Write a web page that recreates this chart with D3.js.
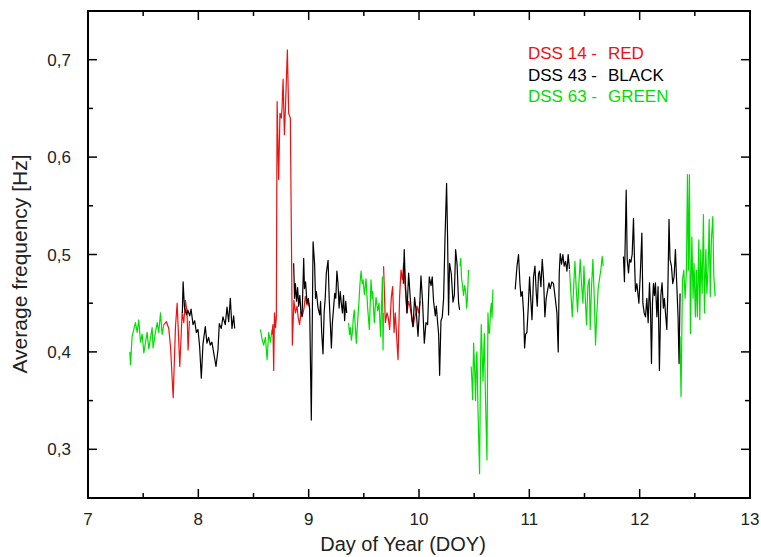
<!DOCTYPE html>
<html lang="en">
<head>
<meta charset="UTF-8">
<title>Average frequency vs DOY</title>
<script src="https://cdn.jsdelivr.net/npm/d3@7/dist/d3.min.js"></script>
<style>
    body { margin: 0; background: #fff; }
    svg { display: block; font-family: "Liberation Sans", Arial, sans-serif; }
    .frame { fill: none; stroke: #000; stroke-width: 2px; }
    .tick line { stroke: #000; stroke-width: 1.5px; }
    .tick-label { fill: #222; font-size: 17px; }
    .trace { fill: none; stroke-width: 1.2px; stroke-linejoin: round; }
</style>
</head>
<body>
<script>
    // canvas
    const width = 761;
    const height = 557;
    const margin = { top: 11, right: 11, bottom: 59, left: 88 };

    // axis ticks
    const xMajor = [7, 8, 9, 10, 11, 12, 13];
    const xMinor = [7.5, 8.5, 9.5, 10.5, 11.5, 12.5];
    const yMajor = [0.3, 0.4, 0.5, 0.6, 0.7];
    const yMinor = [0.25, 0.35, 0.45, 0.55, 0.65, 0.75];

    // DSS 14 (red) - [day, Hz]
    const red1 = [[7.687,0.428],[7.711,0.431],[7.732,0.424],[7.748,0.405],[7.772,0.353],[7.793,0.426],[7.808,0.450],[7.832,0.385],[7.853,0.440],[7.868,0.430],[7.883,0.453],[7.898,0.440],[7.907,0.402],[7.919,0.432]];
    const red2 = [[8.668,0.418],[8.676,0.428],[8.683,0.381],[8.690,0.440],[8.700,0.425],[8.707,0.435],[8.714,0.657],[8.728,0.577],[8.740,0.645],[8.752,0.640],[8.759,0.651],[8.768,0.680],[8.780,0.623],[8.790,0.652],[8.807,0.710],[8.819,0.645],[8.834,0.640],[8.852,0.407],[8.866,0.453],[8.880,0.440],[8.895,0.447],[8.905,0.435],[8.918,0.428],[8.930,0.440],[8.943,0.437],[8.958,0.445],[8.970,0.457],[8.985,0.448],[8.995,0.452],[9.009,0.445]];
    const red3 = [[9.679,0.488],[9.695,0.430],[9.710,0.440],[9.722,0.435],[9.734,0.423],[9.749,0.456],[9.761,0.467],[9.774,0.420],[9.785,0.440],[9.801,0.409],[9.810,0.392],[9.824,0.456],[9.837,0.484],[9.849,0.474],[9.861,0.491],[9.876,0.465],[9.891,0.440],[9.906,0.452],[9.921,0.445],[9.935,0.435],[9.946,0.426],[9.960,0.435],[9.972,0.440],[9.982,0.447],[9.995,0.440],[10.012,0.452]];

    // DSS 43 (black)
    const black1 = [[7.855,0.440],[7.862,0.472],[7.874,0.446],[7.892,0.438],[7.904,0.443],[7.922,0.437],[7.934,0.444],[7.952,0.428],[7.967,0.432],[7.982,0.420],[7.997,0.423],[8.012,0.405],[8.027,0.373],[8.042,0.408],[8.063,0.426],[8.078,0.409],[8.093,0.415],[8.108,0.407],[8.123,0.410],[8.138,0.400],[8.160,0.385],[8.178,0.402],[8.190,0.429],[8.208,0.424],[8.223,0.436],[8.244,0.428],[8.260,0.446],[8.275,0.431],[8.290,0.455],[8.305,0.424],[8.320,0.437],[8.330,0.424]];
    const black2 = [[8.864,0.491],[8.872,0.455],[8.880,0.470],[8.890,0.452],[8.900,0.466],[8.909,0.447],[8.920,0.458],[8.930,0.440],[8.940,0.436],[8.955,0.496],[8.962,0.465],[8.972,0.472],[8.985,0.450],[8.997,0.455],[9.009,0.444],[9.024,0.330],[9.040,0.513],[9.054,0.490],[9.062,0.455],[9.070,0.462],[9.085,0.445],[9.100,0.438],[9.108,0.452],[9.118,0.420],[9.130,0.398],[9.140,0.440],[9.150,0.455],[9.160,0.481],[9.176,0.494],[9.186,0.455],[9.196,0.430],[9.206,0.404],[9.215,0.430],[9.228,0.448],[9.236,0.460],[9.246,0.455],[9.256,0.483],[9.266,0.470],[9.276,0.445],[9.286,0.462],[9.296,0.450],[9.306,0.440],[9.316,0.458],[9.326,0.432],[9.336,0.452],[9.345,0.440]];
    const black3 = [[9.858,0.470],[9.866,0.505],[9.876,0.472],[9.891,0.440],[9.906,0.481],[9.921,0.455],[9.937,0.432],[9.946,0.426],[9.960,0.456],[9.976,0.440],[9.991,0.416],[10.005,0.445],[10.018,0.478],[10.033,0.450],[10.048,0.409],[10.063,0.430],[10.078,0.428],[10.093,0.477],[10.109,0.468],[10.120,0.477],[10.132,0.452],[10.148,0.437],[10.157,0.447],[10.169,0.430],[10.178,0.418],[10.187,0.376],[10.199,0.432],[10.211,0.436],[10.223,0.455],[10.236,0.518],[10.250,0.573],[10.259,0.518],[10.268,0.438],[10.277,0.491],[10.293,0.480],[10.308,0.451],[10.320,0.458],[10.332,0.505],[10.345,0.490],[10.359,0.450],[10.368,0.443]];
    const black4 = [[10.872,0.464],[10.888,0.488],[10.902,0.500],[10.915,0.470],[10.924,0.457],[10.936,0.462],[10.948,0.440],[10.957,0.404],[10.966,0.418],[10.978,0.420],[10.990,0.445],[11.002,0.477],[11.014,0.452],[11.024,0.433],[11.038,0.477],[11.051,0.488],[11.063,0.460],[11.072,0.447],[11.083,0.480],[11.092,0.483],[11.105,0.467],[11.117,0.495],[11.129,0.475],[11.141,0.436],[11.153,0.455],[11.165,0.463],[11.178,0.471],[11.189,0.465],[11.205,0.472],[11.219,0.470],[11.235,0.455],[11.250,0.440],[11.262,0.400],[11.271,0.481],[11.280,0.501],[11.292,0.490],[11.304,0.500],[11.316,0.488],[11.328,0.493],[11.341,0.483],[11.352,0.500],[11.364,0.485]];
    const black5 = [[11.853,0.498],[11.862,0.472],[11.878,0.566],[11.887,0.495],[11.899,0.481],[11.908,0.495],[11.920,0.492],[11.932,0.500],[11.944,0.537],[11.953,0.495],[11.962,0.462],[11.975,0.470],[11.984,0.460],[11.993,0.450],[12.005,0.478],[12.020,0.522],[12.029,0.450],[12.041,0.440],[12.053,0.436],[12.065,0.455],[12.077,0.430],[12.089,0.471],[12.098,0.445],[12.107,0.388],[12.116,0.450],[12.125,0.470],[12.134,0.458],[12.143,0.471],[12.156,0.436],[12.167,0.467],[12.179,0.381],[12.192,0.458],[12.203,0.471],[12.215,0.445],[12.224,0.455],[12.234,0.440],[12.246,0.423],[12.255,0.460],[12.266,0.536],[12.275,0.495],[12.288,0.488],[12.300,0.470],[12.312,0.477],[12.324,0.505],[12.337,0.467],[12.348,0.436],[12.357,0.388],[12.366,0.460]];

    // DSS 63 (green)
    const green1 = [[7.379,0.400],[7.385,0.387],[7.400,0.416],[7.430,0.430],[7.446,0.420],[7.460,0.433],[7.476,0.410],[7.491,0.418],[7.506,0.399],[7.536,0.420],[7.551,0.403],[7.581,0.425],[7.590,0.404],[7.611,0.420],[7.627,0.430],[7.641,0.420],[7.657,0.440],[7.672,0.418],[7.687,0.428]];
    const green2 = [[8.563,0.423],[8.578,0.413],[8.592,0.407],[8.608,0.415],[8.623,0.392],[8.638,0.420],[8.653,0.410],[8.668,0.423]];
    const green3 = [[9.362,0.430],[9.370,0.418],[9.378,0.425],[9.387,0.412],[9.396,0.420],[9.405,0.435],[9.414,0.443],[9.423,0.425],[9.432,0.409],[9.442,0.428],[9.455,0.450],[9.465,0.470],[9.475,0.483],[9.485,0.470],[9.493,0.474],[9.505,0.459],[9.520,0.475],[9.534,0.446],[9.550,0.423],[9.558,0.450],[9.565,0.474],[9.575,0.455],[9.580,0.462],[9.595,0.430],[9.603,0.445],[9.611,0.456],[9.625,0.442],[9.638,0.450],[9.652,0.416],[9.668,0.477],[9.674,0.402],[9.679,0.440]];
    const green4 = [[10.372,0.488],[10.378,0.496],[10.386,0.475],[10.393,0.470],[10.404,0.458],[10.414,0.468],[10.423,0.462],[10.432,0.445],[10.438,0.453],[10.449,0.484]];
    const green5 = [[10.473,0.385],[10.480,0.370],[10.486,0.351],[10.495,0.409],[10.505,0.380],[10.513,0.350],[10.520,0.395],[10.525,0.400],[10.534,0.344],[10.549,0.275],[10.557,0.380],[10.564,0.428],[10.572,0.400],[10.580,0.370],[10.592,0.419],[10.603,0.350],[10.616,0.289],[10.625,0.440],[10.632,0.420],[10.639,0.419],[10.647,0.440],[10.655,0.450],[10.662,0.435],[10.670,0.464]];
    const green6 = [[11.364,0.484],[11.377,0.460],[11.389,0.436],[11.401,0.465],[11.413,0.493],[11.425,0.465],[11.437,0.441],[11.449,0.470],[11.461,0.495],[11.473,0.470],[11.486,0.450],[11.495,0.488],[11.506,0.458],[11.518,0.428],[11.531,0.468],[11.543,0.475],[11.552,0.423],[11.563,0.465],[11.576,0.495],[11.588,0.458],[11.600,0.407],[11.612,0.440],[11.624,0.465],[11.636,0.475],[11.649,0.485],[11.660,0.498],[11.670,0.488]];
    const green7 = [[12.366,0.416],[12.375,0.354],[12.388,0.474],[12.400,0.484],[12.412,0.455],[12.424,0.484],[12.433,0.582],[12.442,0.484],[12.451,0.582],[12.460,0.419],[12.473,0.518],[12.484,0.455],[12.493,0.491],[12.505,0.436],[12.514,0.484],[12.523,0.436],[12.536,0.515],[12.545,0.433],[12.554,0.505],[12.566,0.460],[12.578,0.541],[12.587,0.440],[12.600,0.505],[12.609,0.460],[12.621,0.488],[12.630,0.536],[12.640,0.457],[12.650,0.515],[12.663,0.539],[12.672,0.478],[12.684,0.457]];

    const stations = [
        { name: 'DSS 63 -', color: 'GREEN', stroke: '#00e000', segments: [green1, green2, green3, green4, green5, green6, green7] },
        { name: 'DSS 14 -', color: 'RED', stroke: '#f01010', segments: [red1, red2, red3] },
        { name: 'DSS 43 -', color: 'BLACK', stroke: '#000000', segments: [black1, black2, black3, black4, black5] }
    ];
    const legendOrder = ['DSS 14 -', 'DSS 43 -', 'DSS 63 -'];

    let svg = d3.select('body')
        .append('svg')
        .attr('width', width)
        .attr('height', height);

    const x = d3.scaleLinear().domain([7, 13]).range([margin.left, width - margin.right]);
    const y = d3.scaleLinear().domain([0.25, 0.75]).range([height - margin.bottom, margin.top]);

    const fmt = d => d3.format('.1f')(d).replace('.', ',');

    // traces
    const line = d3.line().x(d => x(d[0])).y(d => y(d[1]));
    stations.forEach(st => {
        svg.append('g')
            .selectAll('path')
            .data(st.segments)
            .enter()
            .append('path')
            .attr('class', 'trace')
            .attr('stroke', st.stroke)
            .attr('d', line);
    });

    // ticks: inward on all four sides
    const x0 = margin.left, x1 = width - margin.right;
    const y0 = height - margin.bottom, y1 = margin.top;
    const majorLen = 9, minorLen = 5;

    function addTicks(vals, len) {
        let g = svg.append('g').attr('class', 'tick');
        vals.forEach(v => {
            g.append('line').attr('x1', x(v)).attr('x2', x(v)).attr('y1', y0).attr('y2', y0 - len);
            g.append('line').attr('x1', x(v)).attr('x2', x(v)).attr('y1', y1).attr('y2', y1 + len);
        });
    }
    function addYTicks(vals, len) {
        let g = svg.append('g').attr('class', 'tick');
        vals.forEach(v => {
            g.append('line').attr('x1', x0).attr('x2', x0 + len).attr('y1', y(v)).attr('y2', y(v));
            g.append('line').attr('x1', x1).attr('x2', x1 - len).attr('y1', y(v)).attr('y2', y(v));
        });
    }
    addTicks(xMajor, majorLen);
    addTicks(xMinor, minorLen);
    addYTicks(yMajor, majorLen);
    addYTicks(yMinor.filter(v => v < 0.75), minorLen);

    // tick labels
    svg.append('g')
        .selectAll('text')
        .data(xMajor)
        .enter()
        .append('text')
        .attr('class', 'tick-label')
        .attr('x', d => x(d))
        .attr('y', y0 + 27)
        .attr('text-anchor', 'middle')
        .text(d => d);

    svg.append('g')
        .selectAll('text')
        .data(yMajor)
        .enter()
        .append('text')
        .attr('class', 'tick-label')
        .attr('x', x0 - 17)
        .attr('y', d => y(d) + 6)
        .attr('text-anchor', 'end')
        .text(d => fmt(d));

    // frame
    svg.append('rect')
        .attr('class', 'frame')
        .attr('x', x0)
        .attr('y', y1)
        .attr('width', x1 - x0)
        .attr('height', y0 - y1);

    // axis titles
    svg.append('text')
        .attr('x', 403)
        .attr('y', 551)
        .attr('text-anchor', 'middle')
        .style('font-size', '20px')
        .attr('fill', '#222')
        .text('Day of Year (DOY)');

    svg.append('text')
        .attr('transform', 'translate(27,264) rotate(-90)')
        .attr('text-anchor', 'middle')
        .style('font-size', '21px')
        .attr('fill', '#222')
        .text('Average frequency [Hz]');

    // legend text
    const legend = svg.append('g');
    legendOrder.forEach((name, i) => {
        const st = stations.find(s => s.name === name);
        legend.append('text')
            .attr('x', 528)
            .attr('y', 59 + i * 21.5)
            .style('font-size', '17px')
            .attr('fill', st.stroke)
            .text(st.name);
        legend.append('text')
            .attr('x', 608)
            .attr('y', 59 + i * 21.5)
            .style('font-size', '17px')
            .attr('fill', st.stroke)
            .text(st.color);
    });
</script>
</body>
</html>
